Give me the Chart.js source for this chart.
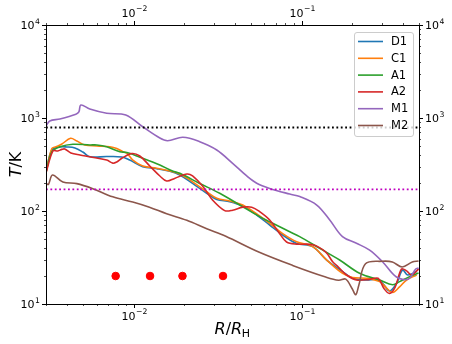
<!DOCTYPE html>
<html>
<head>
<meta charset="utf-8">
<script src="https://cdn.jsdelivr.net/npm/chart.js@4/dist/chart.umd.min.js"></script>
<style>
  html, body { margin: 0; padding: 0; background: #fff; }
  #wrap { width: 452px; height: 344px; }
</style>
</head>
<body>
<div id="wrap"><canvas id="c" width="452" height="344"></canvas></div>
<script>
// axis limits
const xLim = [0.003, 0.5];
const yLim = [10, 10000];

// series (R/R_H, T in K)
const d1R = [0.003, 0.00325, 0.00363, 0.00399, 0.00446, 0.00497, 0.00547, 0.0069, 0.00849, 0.00946, 0.0113, 0.0137, 0.0164, 0.0188, 0.0224, 0.0272, 0.0312, 0.0373, 0.0446, 0.054, 0.0645, 0.0771, 0.0934, 0.1163, 0.141, 0.1754, 0.201, 0.2437, 0.2794, 0.3034, 0.334, 0.3677, 0.399, 0.428, 0.4842];
const d1T = [263, 453, 488, 488, 476, 431, 383, 385, 381, 353, 300, 285, 267, 244, 198, 155, 133, 126, 113, 90.6, 70.7, 55.2, 44.8, 41.4, 29.7, 22.3, 18.9, 18.1, 18.4, 16.7, 13.8, 16.7, 23.2, 20.5, 22.3];

const c1R = [0.003, 0.00325, 0.00344, 0.00373, 0.0042, 0.00458, 0.0051, 0.00603, 0.0072, 0.00792, 0.00861, 0.00909, 0.00987, 0.0113, 0.0137, 0.0164, 0.0188, 0.0224, 0.0272, 0.0312, 0.0373, 0.0446, 0.054, 0.0645, 0.0771, 0.0934, 0.1163, 0.141, 0.1754, 0.201, 0.2437, 0.2911, 0.3206, 0.3485, 0.383, 0.4217, 0.4842];
const c1T = [263, 470, 490, 525, 605, 565, 513, 500, 490, 470, 434, 418, 353, 305, 288, 269, 250, 206, 161, 137, 128, 116, 93, 73.6, 57, 46.6, 41.4, 29.7, 21.3, 19.3, 18.9, 17.4, 14.8, 13.3, 15.3, 18.1, 20.5];

const a1R = [0.003, 0.00325, 0.00363, 0.00434, 0.00547, 0.00603, 0.0069, 0.00826, 0.00909, 0.0116, 0.0143, 0.017, 0.0188, 0.0247, 0.0325, 0.0428, 0.0562, 0.074, 0.0849, 0.0973, 0.128, 0.1683, 0.2213, 0.2911, 0.3485, 0.383, 0.4395, 0.497];
const a1T = [263, 433, 490, 522, 513, 513, 490, 433, 426, 363, 312, 269, 254, 198, 155, 116, 87, 67.6, 59.8, 53, 39.7, 29.7, 21.4, 18.1, 16.1, 17.4, 19.7, 21.5];

const a2R = [0.003, 0.0033, 0.00353, 0.00373, 0.00388, 0.00422, 0.00478, 0.00547, 0.0069, 0.0075, 0.00792, 0.00849, 0.00973, 0.01086, 0.01245, 0.0143, 0.0157, 0.0175, 0.0207, 0.0224, 0.0258, 0.0295, 0.0348, 0.0388, 0.0446, 0.0504, 0.0562, 0.0645, 0.074, 0.0813, 0.0934, 0.1163, 0.1387, 0.153, 0.1653, 0.1853, 0.2124, 0.254, 0.2852, 0.3097, 0.334, 0.3605, 0.3935, 0.4217, 0.4519, 0.497];
const a2T = [256, 442, 442, 460, 464, 421, 400, 383, 353, 327, 337, 369, 415, 390, 305, 238, 210, 224, 250, 238, 183, 131, 101, 102, 110, 110, 98.5, 80, 57, 46.4, 44, 43.4, 36.3, 28.5, 25, 20.5, 18.1, 18.4, 18.9, 14.6, 13, 15.2, 23.8, 22.7, 20.5, 23.8];

const m1R = [0.003, 0.00316, 0.00363, 0.00452, 0.00471, 0.00484, 0.00547, 0.0069, 0.00896, 0.0113, 0.0143, 0.0159, 0.0196, 0.0247, 0.0312, 0.0388, 0.0471, 0.054, 0.0645, 0.0849, 0.0974, 0.123, 0.147, 0.175, 0.212, 0.254, 0.303, 0.367, 0.433, 0.478, 0.497];
const m1T = [820, 929, 975, 1096, 1161, 1380, 1250, 1125, 1077, 805, 609, 570, 620, 556, 453, 326, 238, 199, 175, 152, 143, 116, 80, 53, 45, 38, 28.5, 19.5, 18.6, 23.8, 24.4];

const m2R = [0.003, 0.0031, 0.00328, 0.00378, 0.00458, 0.0057, 0.0075, 0.00986, 0.0124, 0.0157, 0.0207, 0.0272, 0.0353, 0.0555, 0.0883, 0.139, 0.166, 0.183, 0.2, 0.21, 0.219, 0.24, 0.302, 0.347, 0.397, 0.456, 0.497];
const m2T = [198, 193, 244, 205, 197, 174, 142, 125, 110, 93.5, 79.4, 64.5, 53.5, 36.2, 26, 19.5, 18, 18.5, 14.6, 12.6, 15.9, 27.1, 28.8, 28.3, 25, 28.3, 29];

const seriesNames = ['D1', 'C1', 'A1', 'A2', 'M1', 'M2'];
const seriesColors = ['#1f77b4', '#ff7f0e', '#2ca02c', '#d62728', '#9467bd', '#8c564b'];
const seriesR = [d1R, c1R, a1R, a2R, m1R, m2R];
const seriesT = [d1T, c1T, a1T, a2T, m1T, m2T];

// reference levels and markers
const levelBlack = 790;
const levelMagenta = 171;
const dotR = [0.0078, 0.0125, 0.0195, 0.034];
const dotT = [20, 20, 20, 20];

const pts = (xs, ys) => xs.map((x, i) => ({ x: x, y: ys[i] }));

const datasets = [];
seriesNames.forEach((name, i) => {
    datasets.push({
        label: name,
        data: pts(seriesR[i], seriesT[i]),
        borderColor: seriesColors[i],
        backgroundColor: seriesColors[i],
        borderWidth: 1.6,
        pointRadius: 0,
        tension: 0.35,
        fill: false,
        order: 20 - i
    });
});
datasets.push({
    data: pts(xLim, [levelBlack, levelBlack]),
    borderColor: '#000000', borderWidth: 1.8, borderDash: [1.8, 2.6],
    pointRadius: 0, order: 5
});
datasets.push({
    data: pts(xLim, [levelMagenta, levelMagenta]),
    borderColor: '#bf00bf', borderWidth: 1.8, borderDash: [1.8, 2.6],
    pointRadius: 0, order: 4
});
datasets.push({
    type: 'scatter',
    data: pts(dotR, dotT),
    backgroundColor: '#ff0000', borderColor: '#ff0000',
    pointRadius: 3.8, showLine: false, order: 3
});

function decadeTicks(min, max) {
    const out = [];
    for (let e = Math.floor(Math.log10(min)); e <= Math.ceil(Math.log10(max)); e++) {
        for (let m = 1; m <= 9; m++) {
            const v = m * Math.pow(10, e);
            if (v >= min * 0.9999 && v <= max * 1.0001) out.push({ v: v, major: m === 1, e: e });
        }
    }
    return out;
}

function drawPow(ctx, e, x, y, align) {
    const base = '10', ex = String(e).replace('-', '\u2212');
    ctx.font = '11px "DejaVu Sans"';
    const wb = ctx.measureText(base).width;
    ctx.font = '7.7px "DejaVu Sans"';
    const we = ctx.measureText(ex).width;
    const w = wb + we + 0.5;
    let x0 = align === 'right' ? x - w : align === 'left' ? x : x - w / 2;
    ctx.fillStyle = '#000';
    ctx.textAlign = 'left';
    ctx.textBaseline = 'middle';
    ctx.font = '11px "DejaVu Sans"';
    ctx.fillText(base, x0, y + 1);
    ctx.font = '7.7px "DejaVu Sans"';
    ctx.fillText(ex, x0 + wb + 0.5, y - 3.5);
}

const frame = {
    id: 'frame',
    afterDraw(chart) {
        const ctx = chart.ctx, a = chart.chartArea;
        const xs = chart.scales.x, ys = chart.scales.y;
        ctx.save();
        ctx.strokeStyle = '#000';
        ctx.lineWidth = 1;
        ctx.strokeRect(Math.round(a.left) + 0.5, Math.round(a.top) + 0.5, Math.round(a.right - a.left), Math.round(a.bottom - a.top));

        // x ticks (bottom and top)
        decadeTicks(xLim[0], xLim[1]).forEach(t => {
            const px = Math.round(xs.getPixelForValue(t.v)) + 0.5;
            const len = t.major ? 4 : 2;
            ctx.lineWidth = t.major ? 1 : 0.7;
            ctx.beginPath();
            ctx.moveTo(px, a.bottom); ctx.lineTo(px, a.bottom + len);
            ctx.moveTo(px, a.top); ctx.lineTo(px, a.top - len);
            ctx.stroke();
            if (t.major) {
                drawPow(ctx, t.e, px, a.bottom + 12, 'center');
                drawPow(ctx, t.e, px, a.top - 12, 'center');
            }
        });
        // y ticks (left and right)
        decadeTicks(yLim[0], yLim[1]).forEach(t => {
            const py = Math.round(ys.getPixelForValue(t.v)) + 0.5;
            const len = t.major ? 4 : 2;
            ctx.lineWidth = t.major ? 1 : 0.7;
            ctx.beginPath();
            ctx.moveTo(a.left, py); ctx.lineTo(a.left - len, py);
            ctx.moveTo(a.right, py); ctx.lineTo(a.right + len, py);
            ctx.stroke();
            if (t.major) {
                drawPow(ctx, t.e, a.left - 6, py, 'right');
                drawPow(ctx, t.e, a.right + 6, py, 'left');
            }
        });

        // axis titles
        ctx.fillStyle = '#000';
        ctx.textBaseline = 'alphabetic';
        ctx.textAlign = 'left';
        const cx = (a.left + a.right) / 2, by = a.bottom + 30;
        ctx.font = 'italic 16px "DejaVu Sans"';
        const wR = ctx.measureText('R/R').width;
        ctx.font = '11px "DejaVu Sans"';
        const wH = ctx.measureText('H').width;
        let x0 = cx - (wR + wH) / 2;
        ctx.font = 'italic 16px "DejaVu Sans"';
        ctx.fillText('R', x0, by);
        const wR1 = ctx.measureText('R').width;
        ctx.font = '16px "DejaVu Sans"';
        ctx.fillText('/', x0 + wR1, by);
        const wS = ctx.measureText('/').width;
        ctx.font = 'italic 16px "DejaVu Sans"';
        ctx.fillText('R', x0 + wR1 + wS, by);
        ctx.font = '11px "DejaVu Sans"';
        ctx.fillText('H', x0 + wR1 + wS + wR1 - 0.5, by + 3);

        ctx.save();
        ctx.translate(21, (a.top + a.bottom) / 2);
        ctx.rotate(-Math.PI / 2);
        ctx.font = 'italic 16px "DejaVu Sans"';
        const wT = ctx.measureText('T').width;
        ctx.font = '16px "DejaVu Sans"';
        const wK = ctx.measureText('/K').width;
        ctx.font = 'italic 16px "DejaVu Sans"';
        ctx.fillText('T', -(wT + wK) / 2, 0);
        ctx.font = '16px "DejaVu Sans"';
        ctx.fillText('/K', -(wT + wK) / 2 + wT, 0);
        ctx.restore();

        // legend
        const items = chart.data.datasets.filter(d => d.label);
        const lx = a.right - 65, ly = a.top + 7, lw = 59, lh = 104;
        ctx.globalAlpha = 0.8;
        ctx.fillStyle = '#fff';
        ctx.beginPath();
        ctx.roundRect(lx + 0.5, ly + 0.5, lw, lh, 2.5);
        ctx.fill();
        ctx.globalAlpha = 1;
        ctx.strokeStyle = '#cccccc';
        ctx.lineWidth = 1;
        ctx.stroke();
        ctx.font = '11.5px "DejaVu Sans"';
        ctx.textBaseline = 'middle';
        items.forEach((d, i) => {
            const yy = ly + 9.5 + i * 16.8;
            ctx.strokeStyle = d.borderColor;
            ctx.lineWidth = 1.6;
            ctx.beginPath();
            ctx.moveTo(lx + 4, yy); ctx.lineTo(lx + 29, yy);
            ctx.stroke();
            ctx.fillStyle = '#000';
            ctx.fillText(d.label, lx + 37, yy + 0.5);
        });
        ctx.restore();
    }
};

const hidden = { display: false };
function logAxis(pos, lim, size) {
    return {
        type: 'logarithmic', position: pos, min: lim[0], max: lim[1],
        ticks: hidden, grid: { display: false }, border: { display: false },
        afterFit(s) {
            if (pos === 'left' || pos === 'right') s.width = size; else s.height = size;
        }
    };
}

new Chart(document.getElementById('c'), {
    type: 'line',
    data: { datasets: datasets },
    options: {
        responsive: false,
        animation: false,
        layout: { padding: 0 },
        scales: {
            x: logAxis('bottom', xLim, 40),
            x2: logAxis('top', xLim, 25),
            y: logAxis('left', yLim, 46),
            y2: logAxis('right', yLim, 33)
        },
        plugins: { legend: { display: false }, tooltip: { enabled: false } }
    },
    plugins: [frame]
});
</script>
</body>
</html>
